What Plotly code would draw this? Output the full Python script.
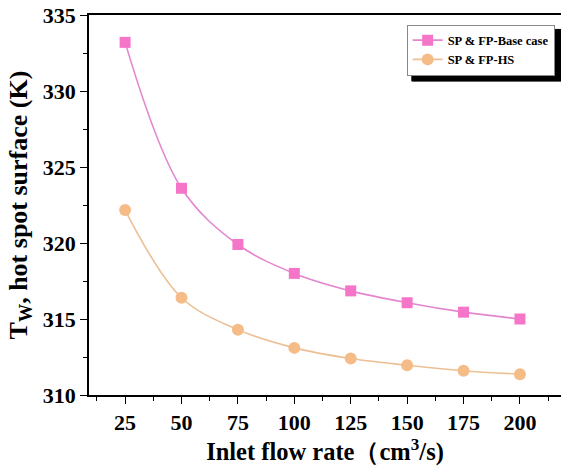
import plotly.graph_objects as go

flow_rate = [25, 50, 75, 100, 125, 150, 175, 200]
base_case = [333.2, 323.6, 319.9, 318.0, 316.85, 316.07, 315.45, 315.0]
hs_case = [322.17, 316.4, 314.3, 313.1, 312.4, 311.96, 311.6, 311.37]
x_ticks = [25, 50, 75, 100, 125, 150, 175, 200]
y_ticks = [310, 315, 320, 325, 330, 335]

FONT = "Liberation Serif, Times New Roman, serif"

fig = go.Figure()
fig.add_trace(go.Scatter(
    x=flow_rate, y=base_case, name="SP & FP-Base case",
    mode="lines+markers", line=dict(color="#E486CF", width=1.6, shape="spline", smoothing=1.0),
    marker=dict(symbol="square", size=11, color="#F576C8"),
))
fig.add_trace(go.Scatter(
    x=flow_rate, y=hs_case, name="SP & FP-HS",
    mode="lines+markers", line=dict(color="#EDBF94", width=1.6, shape="spline", smoothing=1.0),
    marker=dict(symbol="circle", size=12, color="#F5BC88"),
))

axis_common = dict(
    showgrid=False, zeroline=False, showline=True, linecolor="black", linewidth=1.5,
    ticks="outside", ticklen=7, tickwidth=1.2, tickcolor="black", automargin=False,
    tickfont=dict(family=FONT, size=22, color="black", weight="bold"),
)

fig.update_xaxes(
    **axis_common, range=[9.0, 218.2], tickvals=x_ticks, mirror=True,
    minor=dict(ticks="outside", ticklen=4, tickwidth=1.2, tickcolor="black", dtick=12.5, tick0=12.5),
    title=dict(text="Inlet flow rate\uff08cm<sup>3</sup>/s)", font=dict(family=FONT, size=24.5, color="black", weight="bold"), standoff=4),
)
fig.update_yaxes(
    **axis_common, range=[310, 335], tickvals=y_ticks,
    minor=dict(ticks="outside", ticklen=4, tickwidth=1.2, tickcolor="black", dtick=2.5, tick0=310),
    title=dict(text="T<sub>W</sub>, hot spot surface (K)", font=dict(family=FONT, size=26, color="black", weight="bold"), standoff=8),
)

# legend drop shadow
fig.add_shape(type="rect", xref="paper", yref="paper",
              x0=0.684, x1=1.0, y0=0.826, y1=0.962,
              fillcolor="black", line=dict(color="black", width=1), layer="above", opacity=1)

fig.update_layout(
    width=561, height=468,
    margin=dict(l=89, r=0, t=15, b=73),
    paper_bgcolor="white", plot_bgcolor="white",
    font=dict(family=FONT, color="black"),
    legend=dict(
        x=0.673, y=0.975, xanchor="left", yanchor="top",
        bgcolor="white", bordercolor="#888888", borderwidth=1,
        font=dict(family=FONT, size=12.5, color="black", weight="bold"),
        itemwidth=30,
    ),
)

fig.write_html("out.html", config={"displayModeBar": False},
               post_script="document.body.style.margin='0px';document.body.style.overflow='hidden';")
